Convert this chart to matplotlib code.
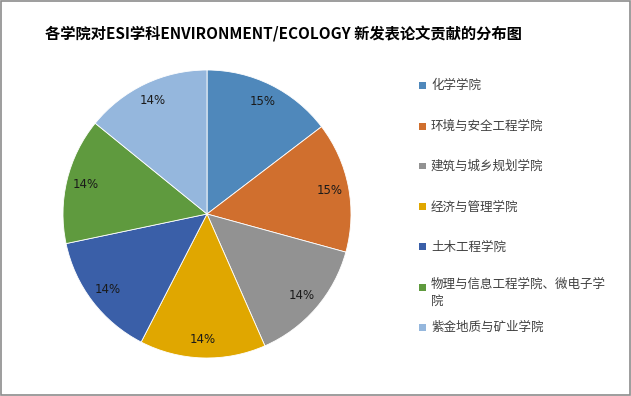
import matplotlib
matplotlib.use("Agg")
import matplotlib.pyplot as plt
from matplotlib.patches import Rectangle

plt.rcParams['font.family'] = ['Noto Sans CJK SC', 'DejaVu Sans']

# paper counts per school (read as percentages 15/15/14/14/14/14/14)
schools = ["化学学院", "环境与安全工程学院", "建筑与城乡规划学院", "经济与管理学院",
           "土木工程学院", "物理与信息工程学院、微电子学\n院", "紫金地质与矿业学院"]
counts = [30, 30, 29, 29, 29, 29, 29]
colors = ["#4F88BB", "#D06F2E", "#929292", "#E0A700",
          "#3A5FA8", "#5F9A3E", "#95B7DD"]

title = "各学院对ESI学科ENVIRONMENT/ECOLOGY 新发表论文贡献的分布图"

fig = plt.figure(figsize=(6.31, 3.96), dpi=100)
fig.patches.append(Rectangle((0.001, 0.002), 0.997, 0.996, transform=fig.transFigure,
                             fill=False, edgecolor="#8c8c8c", lw=1.2))

ax = fig.add_axes([63 / 631, 38 / 396, 288 / 631, 288 / 396])
ax.pie(counts, colors=colors, startangle=90, counterclock=False,
       autopct="%1.0f%%", pctdistance=0.87,
       wedgeprops=dict(edgecolor="white", linewidth=0.6),
       textprops=dict(fontsize=8.5, color="#1a1a1a", family=["DejaVu Sans"]))
ax.set_xlim(-1, 1)
ax.set_ylim(-1, 1)
ax.set_aspect("equal")

fig.text(45 / 631, 1 - 34 / 396, title, fontsize=11, fontweight="bold",
         va="center", ha="left", color="black")

legend_y = [85, 126, 166, 207, 247, 287, 327]
for y_px, name, col in zip(legend_y, schools, colors):
    y = 1 - y_px / 396
    fig.patches.append(Rectangle((419 / 631, y - 3.5 / 396), 7 / 631, 7 / 396,
                                 transform=fig.transFigure, facecolor=col,
                                 edgecolor="none"))
    if "\n" in name:
        fig.text(431 / 631, y + 9 / 396, name, fontsize=9, color="#404040",
                 va="top", ha="left", linespacing=1.4)
    else:
        fig.text(431 / 631, y, name, fontsize=9, color="#404040",
                 va="center", ha="left")

fig.savefig("out.png", dpi=100)
